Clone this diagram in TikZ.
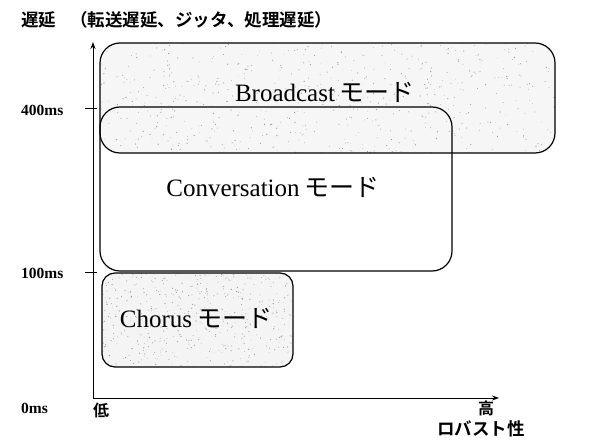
\documentclass[tikz,border=0pt]{standalone}
\usepackage{fontspec}
\setmainfont{Liberation Serif}
\newfontfamily\jp[BoldFont={Noto Sans CJK JP Bold}]{Noto Sans CJK JP}
\usetikzlibrary{arrows.meta}
\tikzset{
  modebox/.style={draw=black, line width=1.2pt, rounded corners=#1},
  modetext/.style={font=\fontsize{25}{28}\selectfont, inner sep=0pt},
  axislbl/.style={font=\fontsize{15.5}{17}\selectfont\bfseries, inner sep=0pt, anchor=west},
  jplbl/.style={font=\jp\bfseries\fontsize{16}{18}\selectfont, inner sep=0pt},
  axis/.style={line width=1pt, -{Stealth[length=7pt,width=5pt]}},
  stip/.style={fill=gray!75}
}
\begin{document}
\begin{tikzpicture}[x=1pt,y=-1pt]
\useasboundingbox (0,0) rectangle (599,443);
% Broadcast box fill with stipple
\fill[gray!7, rounded corners=20pt] (100,43) rectangle (555,153);
\begin{scope}
  \clip[rounded corners=20pt] (100,43) rectangle (555,153);
  \pgfmathsetseed{7}
  \foreach \i in {1,...,600}{
    \pgfmathsetmacro\xx{100+455*rnd}
    \pgfmathsetmacro\yy{43+110*rnd}
    \pgfmathsetmacro\rr{0.3+0.4*rnd}
    \fill[stip] (\xx,\yy) circle (\rr pt);
  }
\end{scope}
% Chorus box fill with stipple
\fill[gray!9, rounded corners=13pt] (102,273) rectangle (293,367);
\begin{scope}
  \clip[rounded corners=13pt] (102,273) rectangle (293,367);
  \pgfmathsetseed{11}
  \foreach \i in {1,...,500}{
    \pgfmathsetmacro\xx{102+191*rnd}
    \pgfmathsetmacro\yy{273+94*rnd}
    \pgfmathsetmacro\rr{0.3+0.4*rnd}
    \fill[stip] (\xx,\yy) circle (\rr pt);
  }
\end{scope}
% boxes as nodes
\node[modebox=20pt, minimum width=455pt, minimum height=110pt, inner sep=0pt] (bc) at (327.5,98) {};
\node[modebox=20pt, minimum width=352pt, minimum height=164pt, inner sep=0pt] (cv) at (276,189) {};
\node[modebox=13pt, minimum width=191pt, minimum height=94pt, inner sep=0pt] (ch) at (197.5,320) {};
% mode labels
\node[modetext] (bct) at (325,92) {Broadcast\hspace{5pt}{\jp モード}};
\node[modetext] (cvt) at (273,187) {Conversation\hspace{5pt}{\jp モード}};
\node[modetext] (cht) at (196,318) {Chorus\hspace{5pt}{\jp モード}};
% axes
\coordinate (O) at (93,398);
\coordinate (ytop) at (93,42);
\coordinate (xend) at (499,398);
\draw[axis] (O) -- (ytop);
\draw[axis] (O) -- (xend);
\coordinate (t4a) at (85,109);
\coordinate (t4b) at (97,109);
\coordinate (t1a) at (85,273);
\coordinate (t1b) at (97,273);
\draw[line width=1pt] (t4a) -- (t4b);
\draw[line width=1pt] (t1a) -- (t1b);
% axis labels
\node[jplbl, font=\jp\bfseries\fontsize{17.5}{19}\selectfont, anchor=west] (title) at (21,20) {遅延\hspace{14pt}（転送遅延、ジッタ、処理遅延）};
\node[axislbl] (l400) at (21,110) {400ms};
\node[axislbl] (l100) at (21,273) {100ms};
\node[axislbl] (l0) at (21,408) {0ms};
\node[jplbl, anchor=west] (low) at (93,410) {低};
\node[jplbl] (high) at (486,408) {高};
\node[jplbl, font=\jp\bfseries\fontsize{17.5}{19}\selectfont] (rob) at (481,429) {ロバスト性};
\end{tikzpicture}
\end{document}
